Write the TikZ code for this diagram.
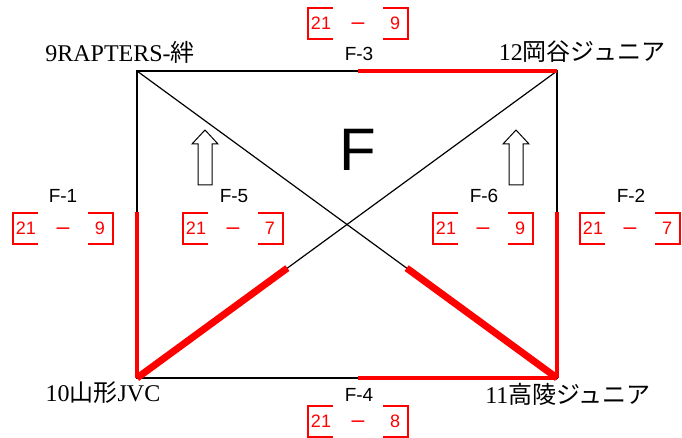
\documentclass[tikz,border=0pt]{standalone}
\usepackage{fontspec}
\usepackage{xcolor}
\usepackage{tikz}
\usetikzlibrary{calc}
\setmainfont{Liberation Serif}
\setsansfont{Liberation Sans}
\newfontfamily\jp{Noto Sans CJK JP}

\tikzset{
  team/.style={font=\fontsize{24}{24}\selectfont, inner sep=0pt},
  match/.style={font=\sffamily\fontsize{19}{19}\selectfont, inner sep=0pt},
  score/.style={red, line width=1.2pt},
  scoretext/.style={red, font=\sffamily\fontsize{18}{18}\selectfont, inner sep=0pt},
  thin line/.style={line width=1.2pt},
  win edge/.style={red, line width=4pt},
  win diag/.style={red, line width=7pt},
}

\begin{document}
\begin{tikzpicture}[x=1pt, y=-1pt]
    \useasboundingbox (0,0) rectangle (682,438);
    \coordinate (A) at (137, 71);
    \coordinate (B) at (557, 71);
    \coordinate (C) at (137, 378);
    \coordinate (D) at (557, 378);
    \coordinate (AB) at ($(A)!0.526!(B)$);
    \coordinate (AC) at ($(A)!0.46!(C)$);
    \coordinate (BD) at ($(B)!0.46!(D)$);
    \coordinate (CD) at ($(C)!0.526!(D)$);
    \coordinate (CB) at ($(C)!0.358!(B)$);
    \coordinate (AD) at ($(A)!0.642!(D)$);
    % games
    \draw[thin line] (A) -- (B) -- (D) -- (C) -- cycle;
    \draw[thin line] (A) -- (D);
    \draw[thin line] (C) -- (B);
    \draw[win edge] (AB) -- (B);
    \draw[win edge] (AC) -- (C);
    \draw[win edge] (BD) -- (D);
    \draw[win edge] (CD) -- (D);
    \draw[win diag] (C) -- (CB);
    \draw[win diag] (AD) -- (D);
    % teams
    \node[team] (t9) at (120, 52) {9RAPTERS-{\jp 絆}};
    \node[team] (t12) at (582, 52) {12{\jp 岡谷ジュニア}};
    \node[team] (t10) at (103, 393) {10{\jp 山形}JVC};
    \node[team] (t11) at (568, 394) {11{\jp 高陵ジュニア}};
    \node[font=\sffamily\fontsize{60}{60}\selectfont, inner sep=0pt] (blk) at (358, 150) {F};
    % match labels
    \node[match] (f1) at (63, 196) {F-1};
    \node[match] (f2) at (631, 196) {F-2};
    \node[match] (f3) at (359, 54) {F-3};
    \node[match] (f4) at (359, 395) {F-4};
    \node[match] (f5) at (234, 196) {F-5};
    \node[match] (f6) at (484, 196) {F-6};
    % scores
    \foreach \bx/\by/\sl/\sr [count=\i] in {13/213/21/9, 580/213/21/7, 308/8/21/9, 308/406/21/8, 183/213/21/7, 433/213/21/9} {
        \draw[score] (\bx+25,\by) -- (\bx,\by) -- (\bx,\by+31) -- (\bx+25,\by+31);
        \draw[score] (\bx+75,\by) -- (\bx+100,\by) -- (\bx+100,\by+31) -- (\bx+75,\by+31);
        \node[scoretext] (sl\i) at (\bx+13,\by+15.5) {\sl};
        \node[scoretext, font=\sffamily\fontsize{23}{23}\selectfont] (sm\i) at (\bx+50,\by+18.5) {--};
        \node[scoretext] (sr\i) at (\bx+87,\by+15.5) {\sr};
    }
    % arrows
    \foreach \ax in {205, 516} {
        \draw[line width=1pt] (\ax-7,185) -- (\ax-7,144) -- (\ax-13,144) -- (\ax,130)
            -- (\ax+13,144) -- (\ax+7,144) -- (\ax+7,185) -- cycle;
    }
\end{tikzpicture}
\end{document}
